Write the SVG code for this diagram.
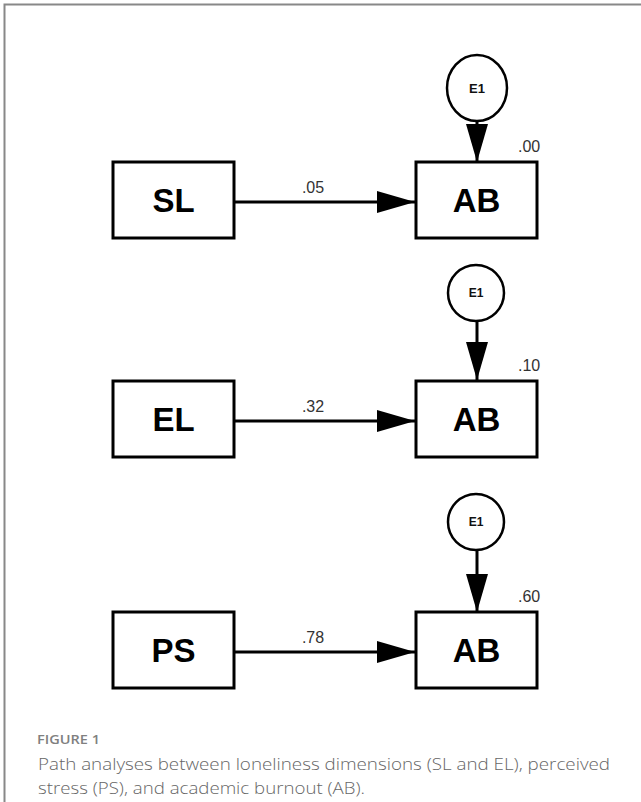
<svg xmlns="http://www.w3.org/2000/svg" width="641" height="802" viewBox="0 0 641 802">
<style>
.box{fill:#fff;stroke:#000;stroke-width:3}
.err{fill:#fff;stroke:#000;stroke-width:2.5}
.lbl{font-family:"Liberation Sans",Arial,sans-serif;font-weight:bold;font-size:33px;fill:#000;text-anchor:middle}
.e{font-family:"Liberation Sans",Arial,sans-serif;font-weight:bold;font-size:12px;fill:#111;text-anchor:middle}
.num{font-family:"Liberation Sans",Arial,sans-serif;font-size:16px;fill:#333}
.edge{stroke:#000;stroke-width:3;fill:none}
.cap{font-family:"Open Sans","Noto Sans",sans-serif;font-weight:300;font-size:17px;fill:#666}
.fig{font-family:"Open Sans","Noto Sans",sans-serif;font-size:13px;font-weight:600;fill:#808080}
</style>
<defs>
<marker id="ah" markerWidth="38" markerHeight="22" refX="38" refY="11" orient="auto" markerUnits="userSpaceOnUse">
<path d="M0,0 L38,11 L0,22 Z" fill="#000"/>
</marker>
</defs>
<rect width="641" height="802" fill="#fff"/>
<path d="M4.5,802 V4.5 H641" fill="none" stroke="#888" stroke-width="2"/>

<g id="connectors">
<line class="edge" x1="234" y1="202" x2="415" y2="202" marker-end="url(#ah)"/>
<line class="edge" x1="477" y1="120" x2="477" y2="162" marker-end="url(#ah)"/>
<line class="edge" x1="234" y1="421" x2="415" y2="421" marker-end="url(#ah)"/>
<line class="edge" x1="477" y1="320" x2="477" y2="380" marker-end="url(#ah)"/>
<line class="edge" x1="234" y1="652" x2="415" y2="652" marker-end="url(#ah)"/>
<line class="edge" x1="477" y1="549" x2="477" y2="612" marker-end="url(#ah)"/>
<text class="num" x="313" y="193" text-anchor="middle">.05</text>
<text class="num" x="313" y="412" text-anchor="middle">.32</text>
<text class="num" x="313" y="643" text-anchor="middle">.78</text>
</g>

<g id="E1a"><ellipse class="err" cx="477" cy="88" rx="30" ry="33"/><text class="e" x="477" y="93" style="font-size:13px">E1</text></g>
<g id="SL"><rect class="box" x="113" y="162" width="121" height="76"/><text class="lbl" x="173.5" y="212">SL</text></g>
<g id="AB1"><rect class="box" x="416" y="162" width="121" height="76"/><text class="lbl" x="476.5" y="212">AB</text><text class="num" x="518" y="152">.00</text></g>

<g id="E1b"><circle class="err" cx="476" cy="293" r="28"/><text class="e" x="476" y="297">E1</text></g>
<g id="EL"><rect class="box" x="113" y="381" width="121" height="76"/><text class="lbl" x="173.5" y="431">EL</text></g>
<g id="AB2"><rect class="box" x="416" y="381" width="121" height="76"/><text class="lbl" x="476.5" y="431">AB</text><text class="num" x="518" y="371">.10</text></g>

<g id="E1c"><circle class="err" cx="476" cy="522" r="28"/><text class="e" x="476" y="526">E1</text></g>
<g id="PS"><rect class="box" x="113" y="612" width="121" height="76"/><text class="lbl" x="173.5" y="662">PS</text></g>
<g id="AB3"><rect class="box" x="416" y="612" width="121" height="76"/><text class="lbl" x="476.5" y="662">AB</text><text class="num" x="518" y="602">.60</text></g>

<g id="caption">
<text class="fig" x="37" y="744" textLength="63" lengthAdjust="spacingAndGlyphs">FIGURE 1</text>
<text class="cap" x="38" y="770" textLength="572" lengthAdjust="spacingAndGlyphs">Path analyses between loneliness dimensions (SL and EL), perceived</text>
<text class="cap" x="38" y="794" textLength="327" lengthAdjust="spacingAndGlyphs">stress (PS), and academic burnout (AB).</text>
</g>
</svg>
